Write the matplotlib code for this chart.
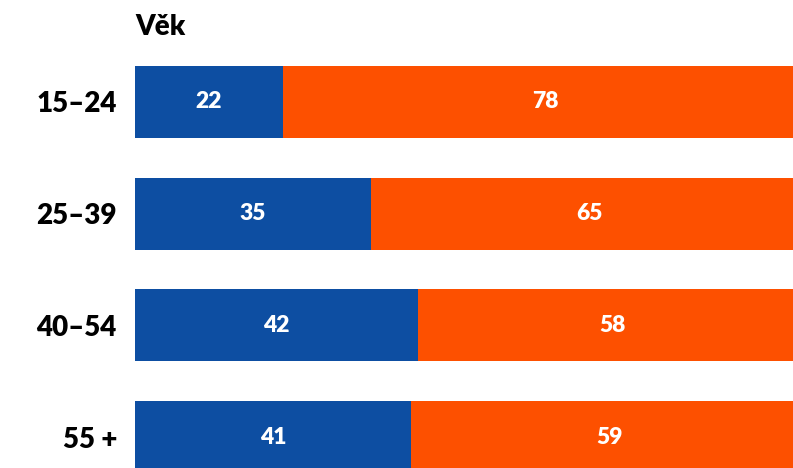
import matplotlib
matplotlib.use("Agg")
import matplotlib.pyplot as plt

categories = ["15–24", "25–39", "40–54", "55 +"]
blue_vals = [22, 35, 42, 41]
orange_vals = [78, 65, 58, 59]

BLUE = "#0D4EA2"
ORANGE = "#FD5000"
plt.rcParams['font.family'] = ['Lato', 'DejaVu Sans']

W, H = 793, 468
fig = plt.figure(figsize=(W/100, H/100), dpi=100)
left_px, right_px = 135, 808
top_px, bot_px = 66, 473
ax = fig.add_axes([left_px/W, (H-bot_px)/H, (right_px-left_px)/W, (bot_px-top_px)/H])

pitch = (401-66)/3
bh = 72/pitch
y = list(range(len(categories)))
ax.barh(y, blue_vals, height=bh, color=BLUE, linewidth=0)
ax.barh(y, orange_vals, left=blue_vals, height=bh, color=ORANGE, linewidth=0)
for i in y:
    ax.text(blue_vals[i]/2, i, str(blue_vals[i]), ha='center', va='center',
            color='white', fontsize=16.5, fontweight='heavy')
    ax.text(blue_vals[i] + orange_vals[i]/2, i, str(orange_vals[i]), ha='center', va='center',
            color='white', fontsize=16.5, fontweight='heavy')

ax.set_xlim(0, 100)
ax.set_ylim(len(categories)-1 + bh/2, -bh/2)
ax.set_yticks(y)
ax.set_yticklabels(categories, fontsize=20, fontweight='heavy')
ax.tick_params(axis='y', length=0, pad=13)
ax.set_xticks([])
for s in ax.spines.values():
    s.set_visible(False)

fig.text(left_px/W, 1 - 27/H, "Věk", ha='left', va='center', fontsize=20, fontweight='heavy')
fig.savefig("out.png", dpi=100)
